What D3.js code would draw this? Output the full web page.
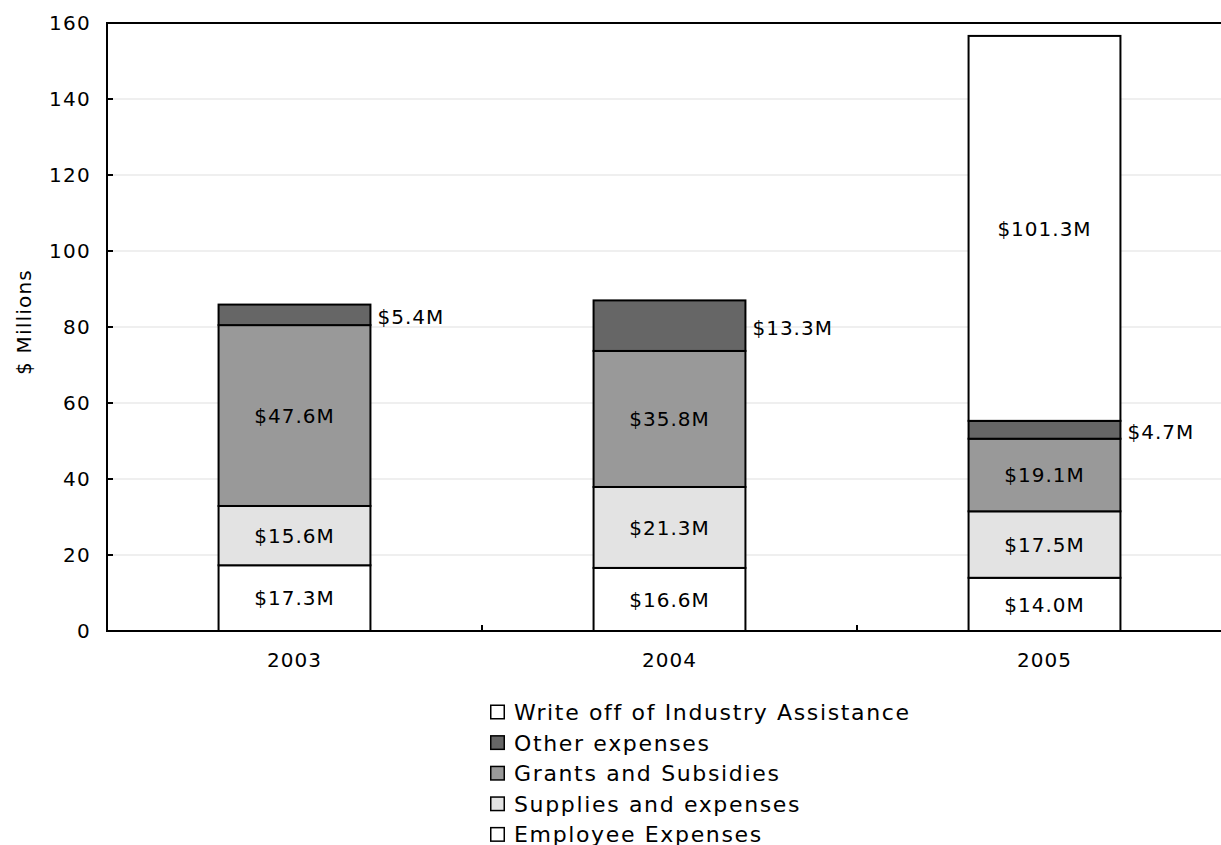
<!DOCTYPE html>
<html>
<head>
<meta charset="utf-8">
<script src="https://cdn.jsdelivr.net/npm/d3@7"></script>
<style>
  html, body { margin: 0; padding: 0; background: #fff; }
  svg text { font-family: "DejaVu Sans", Verdana, sans-serif; fill: #000; }
</style>
</head>
<body>
<svg id="chart" width="1221" height="845"></svg>
<script>
// Expense categories, bottom of the stack first
const years = ["2003", "2004", "2005"];
const seriesNames = ["Employee Expenses", "Supplies and expenses", "Grants and Subsidies", "Other expenses", "Write off of Industry Assistance"];
const employee = [17.3, 16.6, 14.0];
const supplies = [15.6, 21.3, 17.5];
const grants   = [47.6, 35.8, 19.1];
const other    = [5.4, 13.3, 4.7];
const writeOff = [0, 0, 101.3];
const yTicks = [0, 20, 40, 60, 80, 100, 120, 140, 160];
const seriesColors = ["#ffffff", "#e3e3e3", "#999999", "#666666", "#ffffff"];

const seriesValues = [employee, supplies, grants, other, writeOff];
const rows = years.map((yr, i) => {
  const r = { year: yr };
  seriesNames.forEach((s, k) => r[s] = seriesValues[k][i]);
  return r;
});

const svg = d3.select("#chart");
const plotL = 107, plotR = 1232, plotT = 23, plotB = 631;

const x = d3.scaleBand().domain(years).range([plotL, plotR])
  .paddingInner(0.595).paddingOuter(0.595 / 2);
const y = d3.scaleLinear().domain([0, 160]).range([plotB, plotT]);

// light horizontal gridlines
svg.append("g").selectAll("line")
  .data(yTicks.filter(t => t > 0 && t < 160))
  .join("line")
  .attr("x1", plotL).attr("x2", 1221)
  .attr("y1", d => y(d)).attr("y2", d => y(d))
  .attr("stroke", "#efefef").attr("stroke-width", 2);

// stacked bars
const stack = d3.stack().keys(seriesNames)(rows);
const layers = svg.append("g").selectAll("g").data(stack).join("g")
  .attr("fill", (d, i) => seriesColors[i]);
layers.selectAll("rect")
  .data(d => d.filter(p => p[1] - p[0] > 0))
  .join("rect")
  .attr("x", d => x(d.data.year))
  .attr("width", x.bandwidth())
  .attr("y", d => y(d[1]))
  .attr("height", d => y(d[0]) - y(d[1]))
  .attr("stroke", "#000").attr("stroke-width", 2);

// value labels: inside the segment, or to the right for the thin "Other" band
const fmt = v => "$" + v.toFixed(1) + "M";
stack.forEach((layer, k) => {
  layer.forEach(p => {
    const v = p[1] - p[0];
    if (v <= 0) return;
    const outside = seriesNames[k] === "Other expenses";
    const cy = (y(p[0]) + y(p[1])) / 2;
    svg.append("text")
      .attr("x", outside ? x(p.data.year) + x.bandwidth() + 7 : x(p.data.year) + x.bandwidth() / 2)
      .attr("y", outside ? cy + 2 : cy)
      .attr("dy", "0.36em")
      .attr("text-anchor", outside ? "start" : "middle")
      .attr("font-size", 20).attr("letter-spacing", 1)
      .text(fmt(v));
  });
});

// y axis
const yAxis = svg.append("g").attr("transform", `translate(${plotL},0)`)
  .call(d3.axisLeft(y).tickValues(yTicks).tickSize(0).tickPadding(16));
yAxis.select(".domain").remove();
yAxis.selectAll("text").attr("font-size", 20).attr("letter-spacing", 1.3)
  .attr("font-family", "DejaVu Sans, Verdana, sans-serif");
svg.append("g").selectAll("line").data(yTicks.filter(t => t > 0 && t < 160)).join("line")
  .attr("x1", plotL).attr("x2", plotL + 6)
  .attr("y1", d => y(d)).attr("y2", d => y(d))
  .attr("stroke", "#000").attr("stroke-width", 2);

// x axis
const xAxis = svg.append("g").attr("transform", `translate(0,${plotB})`)
  .call(d3.axisBottom(x).tickSize(0).tickPadding(22));
xAxis.select(".domain").remove();
xAxis.selectAll("text").attr("font-size", 20).attr("letter-spacing", 1)
  .attr("font-family", "DejaVu Sans, Verdana, sans-serif");
svg.append("g").selectAll("line")
  .data(years.slice(1))
  .join("line")
  .attr("x1", d => x(d) - x.step() * x.paddingInner() / 2)
  .attr("x2", d => x(d) - x.step() * x.paddingInner() / 2)
  .attr("y1", plotB - 6).attr("y2", plotB)
  .attr("stroke", "#000").attr("stroke-width", 2);

// frame lines: left, bottom, top
svg.append("line").attr("x1", plotL).attr("x2", plotL).attr("y1", plotT - 1).attr("y2", plotB + 1)
  .attr("stroke", "#000").attr("stroke-width", 2);
svg.append("line").attr("x1", plotL).attr("x2", 1221).attr("y1", plotB).attr("y2", plotB)
  .attr("stroke", "#000").attr("stroke-width", 2);
svg.append("line").attr("x1", plotL).attr("x2", 1221).attr("y1", plotT).attr("y2", plotT)
  .attr("stroke", "#000").attr("stroke-width", 2);

// axis title
svg.append("text")
  .attr("transform", `translate(31,${(plotT + plotB) / 2 - 5}) rotate(-90)`)
  .attr("text-anchor", "middle")
  .attr("font-size", 20).attr("letter-spacing", 1.2)
  .text("$ Millions");

// legend, top entry is the top of the stack
const legendItems = seriesNames.map((s, k) => ({ name: s, color: seriesColors[k] })).reverse();
const legend = svg.append("g").attr("transform", "translate(490,712)");
const li = legend.selectAll("g").data(legendItems).join("g")
  .attr("transform", (d, i) => `translate(0,${i * 30.6})`);
li.append("rect").attr("x", 0.75).attr("y", -6.75).attr("width", 13.5).attr("height", 13.5)
  .attr("fill", d => d.color).attr("stroke", "#000").attr("stroke-width", 1.5);
li.append("text").attr("x", 24).attr("dy", "0.36em")
  .attr("font-size", 22).attr("letter-spacing", 1.65)
  .text(d => d.name);
</script>
</body>
</html>
